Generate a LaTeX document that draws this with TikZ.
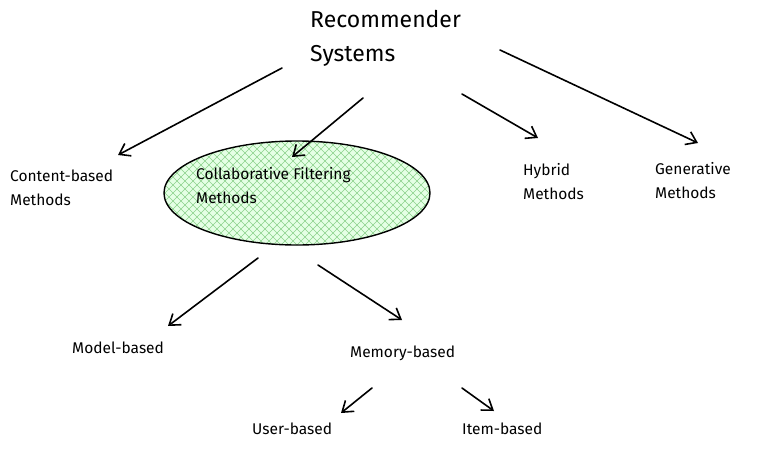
\documentclass[tikz,border=0pt]{standalone}
\usepackage{fontspec}
\setmainfont{Fira Sans}
\usetikzlibrary{arrows.meta,shapes.geometric}
\begin{document}
\begin{tikzpicture}[x=1pt,y=-1pt,
  lbl/.style={anchor=north west,align=left,inner sep=0pt,font=\fontsize{15.5}{24}\selectfont},
  arr/.style={-{Straight Barb[length=10pt,width=14pt]},line width=1.6pt,line cap=round}]
\useasboundingbox (0,0) rectangle (768,458);
\node[ellipse,minimum width=266pt,minimum height=104pt,fill=green!10] (cf) at (297,193) {};
\begin{scope}
\clip (297,193) ellipse [x radius=133, y radius=52];
\foreach \k in {-300,-292,...,300} {
  \draw[green!60!black!45,line width=0.5pt] (297+\k-60,133) -- (297+\k+60,253);
  \draw[green!60!black!45,line width=0.5pt] (297+\k+60,133) -- (297+\k-60,253);
}
\end{scope}
\draw[line width=1.4pt] (297,193) ellipse [x radius=133, y radius=52];
\node[lbl,font=\fontsize{23}{34}\selectfont] (root) at (310,10) {Recommender\\Systems};
\node[lbl] (cb) at (10,170) {Content-based\\Methods};
\node[lbl] (cft) at (196,167) {Collaborative Filtering\\Methods};
\node[lbl] (hy) at (523,163) {Hybrid\\Methods};
\node[lbl] (ge) at (655,162) {Generative\\Methods};
\node[lbl] (mo) at (72,342) {Model-based};
\node[lbl] (me) at (350,346) {Memory-based};
\node[lbl] (us) at (252,423) {User-based};
\node[lbl] (it) at (462,423) {Item-based};
\coordinate (a1) at (282,68); \coordinate (b1) at (118,155);
\coordinate (a2) at (363,98); \coordinate (b2) at (292,157);
\coordinate (a3) at (462,94); \coordinate (b3) at (538,138);
\coordinate (a4) at (500,50); \coordinate (b4) at (698,143);
\coordinate (a5) at (258,258); \coordinate (b5) at (168,326);
\coordinate (a6) at (318,265); \coordinate (b6) at (402,320);
\coordinate (a7) at (372,388); \coordinate (b7) at (341,413);
\coordinate (a8) at (462,388); \coordinate (b8) at (494,411);
\foreach \i in {1,...,8} \draw[arr] (a\i) -- (b\i);
\end{tikzpicture}
\end{document}
